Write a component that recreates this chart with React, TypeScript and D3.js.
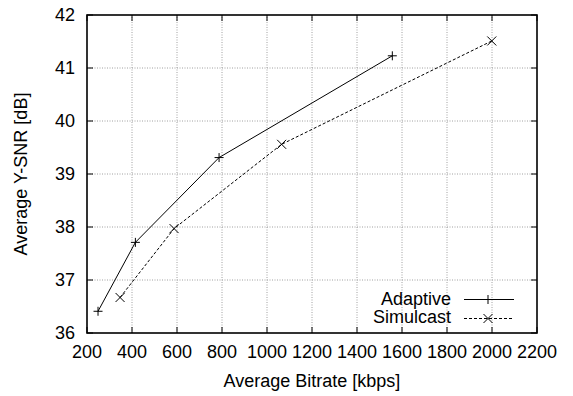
import React from "react";
import * as d3 from "d3";

const adaptiveX = [249, 415, 787, 1557];
const adaptiveY = [36.41, 37.71, 39.31, 41.23];
const simulcastX = [347, 587, 1065, 1999];
const simulcastY = [36.67, 37.97, 39.56, 41.51];
const xTicks = [200, 400, 600, 800, 1000, 1200, 1400, 1600, 1800, 2000, 2200];
const yTicks = [36, 37, 38, 39, 40, 41, 42];
const seriesNames = ["Adaptive", "Simulcast"];

const W = 573, H = 396;
const L = 87, R = 537, T = 15, B = 333;
const FONT = "'Liberation Sans', Arial, Helvetica, sans-serif";
const FS = 18;

export default function App() {
  const x = d3.scaleLinear().domain([200, 2200]).range([L, R]);
  const y = d3.scaleLinear().domain([36, 42]).range([B, T]);
  const line = d3.line<[number, number]>().x(d => x(d[0])).y(d => y(d[1]));
  const aPts: [number, number][] = adaptiveX.map((v, i) => [v, adaptiveY[i]]);
  const sPts: [number, number][] = simulcastX.map((v, i) => [v, simulcastY[i]]);
  const plus = (cx: number, cy: number, s = 4, key?: any) => (
    <path key={key} d={`M${cx - s},${cy}H${cx + s}M${cx},${cy - s}V${cy + s}`} stroke="#000" strokeWidth={1} fill="none" />
  );
  const cross = (cx: number, cy: number, s = 4, key?: any) => (
    <path key={key} d={`M${cx - s},${cy - s}L${cx + s},${cy + s}M${cx - s},${cy + s}L${cx + s},${cy - s}`} stroke="#000" strokeWidth={1} fill="none" />
  );
  const tl = 6;
  return (
    <svg width={W} height={H} style={{ position: "absolute", left: 0, top: 0, background: "#fff" }} fontFamily={FONT}>
      <rect width={W} height={H} fill="#fff" />
      {/* grid */}
      <g stroke="#a0a0a0" strokeWidth={1} strokeDasharray="1,1.5">
        {xTicks.slice(1, -1).map(t => (
          <line key={"gx" + t} x1={x(t)} x2={x(t)} y1={B} y2={T} />
        ))}
        {yTicks.slice(1, -1).map(t => (
          <line key={"gy" + t} x1={L} x2={R} y1={y(t)} y2={y(t)} />
        ))}
      </g>
      {/* ticks */}
      <g stroke="#000" strokeWidth={1}>
        {xTicks.map(t => (
          <g key={"tx" + t}>
            <line x1={x(t)} x2={x(t)} y1={B} y2={B - tl} />
            <line x1={x(t)} x2={x(t)} y1={T} y2={T + tl} />
          </g>
        ))}
        {yTicks.map(t => (
          <g key={"ty" + t}>
            <line x1={L} x2={L + tl} y1={y(t)} y2={y(t)} />
            <line x1={R} x2={R - tl} y1={y(t)} y2={y(t)} />
          </g>
        ))}
      </g>
      {/* tick labels */}
      <g fontSize={FS} fill="#000">
        {xTicks.map(t => (
          <text key={"lx" + t} x={x(t)} y={358} textAnchor="middle">{t}</text>
        ))}
        {yTicks.map(t => (
          <text key={"ly" + t} x={75} y={y(t) + 6.3} textAnchor="end">{t}</text>
        ))}
      </g>
      {/* series */}
      <path d={line(aPts) || ""} stroke="#000" strokeWidth={1} fill="none" />
      <path d={line(sPts) || ""} stroke="#000" strokeWidth={1} strokeDasharray="3,2" fill="none" />
      {aPts.map((p, i) => plus(x(p[0]), y(p[1]), 4.5, "ap" + i))}
      {sPts.map((p, i) => cross(x(p[0]), y(p[1]), 4.5, "sp" + i))}
      {/* legend */}
      <g fontSize={FS} fill="#000">
        <text x={451} y={305} textAnchor="end">{seriesNames[0]}</text>
        <line x1={464} x2={514} y1={299.5} y2={299.5} stroke="#000" strokeWidth={1} />
        {plus(488, 299.5, 4.5)}
        <text x={451} y={322.7} textAnchor="end">{seriesNames[1]}</text>
        <line x1={464} x2={514} y1={318.5} y2={318.5} stroke="#000" strokeWidth={1} strokeDasharray="3,2" />
        {cross(488, 318.5, 4.5)}
      </g>
      {/* frame */}
      <rect x={L} y={T} width={R - L} height={B - T} fill="none" stroke="#000" strokeWidth={1.6} />
      {/* axis titles */}
      <text x={(L + R) / 2} y={387} textAnchor="middle" fontSize={FS}>Average Bitrate [kbps]</text>
      <text transform={`translate(27,${(T + B) / 2}) rotate(-90)`} textAnchor="middle" fontSize={FS}>Average Y-SNR [dB]</text>
    </svg>
  );
}
